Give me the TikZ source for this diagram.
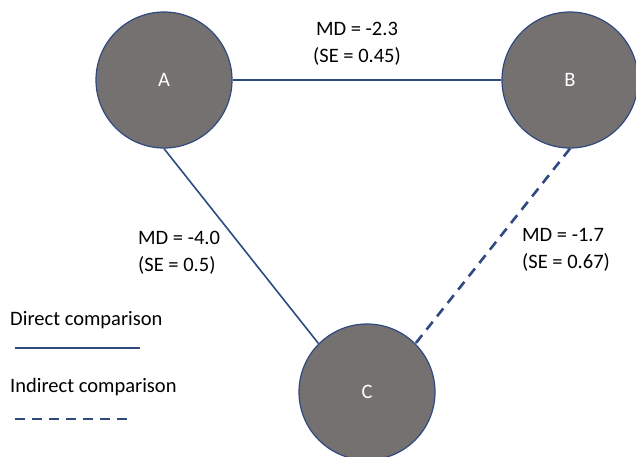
\documentclass[tikz,border=0pt]{standalone}
\usepackage{fontspec}
\setmainfont{Carlito}
\usetikzlibrary{positioning}
\definecolor{nodegray}{HTML}{767171}
\definecolor{navy}{HTML}{2F4A7F}
\tikzset{
    %Define style for the treatment circles
    treat/.style={
           circle,
           draw=navy, line width=1.2pt,
           fill=nodegray,
           minimum size=136pt,
           inner sep=0pt,
           text=white,
           font=\fontsize{20.5}{24}\selectfont,
           },
    % Define style for the estimate labels
    est/.style={
           font=\fontsize{20.5}{26.5}\selectfont,
           inner sep=0pt,
           },
    % Define comparison line styles
    direct/.style={
           draw=navy,
           line width=1.6pt,},
    indirect/.style={
           draw=navy,
           line width=2.6pt,
           dash pattern=on 10pt off 7pt,}
}
\begin{document}
\begin{tikzpicture}[x=1pt,y=-1pt]
\useasboundingbox (0,0) rectangle (636,456);
\node[treat](A) at (164,80){A};
\node[treat](B) at (570,80){B};
\node[treat](C) at (367,392){C};
\node[est, align=center](ab) at (357,44){MD = -2.3\\(SE = 0.45)};
\node[est, align=left, anchor=west](ac) at (138,253){MD = -4.0\\(SE = 0.5)};
\node[est, align=left, anchor=west](bc) at (522,250){MD = -1.7\\(SE = 0.67)};
\path[direct]
	(A.east) edge (B.west)
	(A.south) edge (C.135);
\path[indirect]
	(B.south) edge (C.45);
% legend
\node[est, anchor=west](dir) at (10,320){Direct comparison};
\node[est, anchor=west](ind) at (10,387){Indirect comparison};
\coordinate (d1) at (15,348);
\coordinate (d2) at (140,348);
\coordinate (i1) at (15,419);
\coordinate (i2) at (132,419);
\draw[direct, line width=2.4pt] (d1) -- (d2);
\draw[indirect] (i1) -- (i2);
\end{tikzpicture}
\end{document}
